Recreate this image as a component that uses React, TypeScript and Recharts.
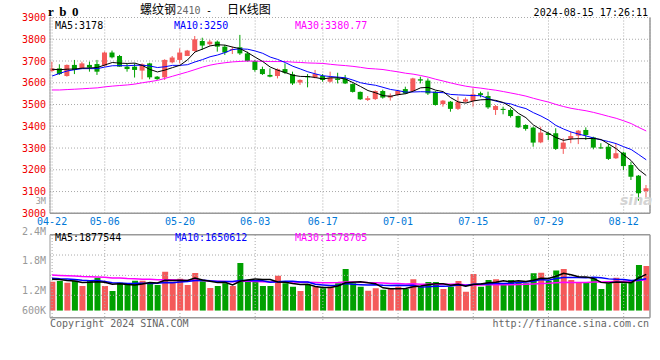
import React from "react";
import {
  ComposedChart,
  Bar,
  Line,
  XAxis,
  YAxis,
  CartesianGrid,
  ReferenceLine,
  Cell,
} from "recharts";

// trading days shown (rb0 daily K, 2024)
const dates = [
  "04-22", "04-23", "04-24", "04-25", "04-26", "04-29", "04-30",
  "05-06", "05-07", "05-08", "05-09", "05-10", "05-13", "05-14", "05-15", "05-16", "05-17",
  "05-20", "05-21", "05-22", "05-23", "05-24", "05-27", "05-28", "05-29", "05-30", "05-31",
  "06-03", "06-04", "06-05", "06-06", "06-07", "06-11", "06-12", "06-13", "06-14",
  "06-17", "06-18", "06-19", "06-20", "06-21", "06-24", "06-25", "06-26", "06-27", "06-28",
  "07-01", "07-02", "07-03", "07-04", "07-05", "07-08", "07-09", "07-10", "07-11", "07-12",
  "07-15", "07-16", "07-17", "07-18", "07-19", "07-22", "07-23", "07-24", "07-25", "07-26",
  "07-29", "07-30", "07-31", "08-01", "08-02", "08-05", "08-06", "08-07", "08-08", "08-09",
  "08-12", "08-13", "08-14", "08-15",
];

const opens = [
  3654, 3666, 3631, 3682, 3666, 3682, 3686, 3679, 3739, 3723,
  3674, 3674, 3656, 3689, 3628, 3625, 3694, 3705, 3723, 3746,
  3792, 3777, 3789, 3766, 3751, 3763, 3735, 3700, 3663, 3636,
  3631, 3663, 3639, 3601, 3631, 3625, 3631, 3605, 3620, 3620,
  3594, 3558, 3521, 3525, 3562, 3532, 3544, 3571, 3562, 3616,
  3610, 3559, 3502, 3513, 3480, 3513, 3516, 3552, 3539, 3475,
  3480, 3475, 3447, 3406, 3394, 3326, 3368, 3368, 3296, 3342,
  3357, 3383, 3349, 3303, 3306, 3253, 3279, 3222, 3173, 3102,
];
const highs = [
  3697, 3685, 3684, 3705, 3697, 3697, 3705, 3743, 3748, 3728,
  3689, 3689, 3689, 3692, 3631, 3708, 3723, 3758, 3751, 3815,
  3807, 3797, 3794, 3774, 3766, 3820, 3743, 3705, 3674, 3666,
  3666, 3689, 3651, 3616, 3640, 3659, 3640, 3651, 3646, 3636,
  3597, 3560, 3539, 3565, 3568, 3551, 3566, 3582, 3623, 3628,
  3620, 3562, 3521, 3516, 3536, 3532, 3575, 3559, 3559, 3498,
  3490, 3483, 3449, 3409, 3398, 3398, 3375, 3391, 3345, 3375,
  3383, 3395, 3352, 3322, 3319, 3322, 3283, 3237, 3176, 3130,
];
const lows = [
  3651, 3636, 3628, 3640, 3663, 3651, 3636, 3674, 3712, 3674,
  3651, 3624, 3616, 3616, 3613, 3613, 3689, 3689, 3723, 3743,
  3751, 3771, 3743, 3728, 3732, 3728, 3697, 3651, 3636, 3625,
  3620, 3640, 3590, 3590, 3579, 3620, 3605, 3601, 3597, 3594,
  3555, 3521, 3516, 3521, 3527, 3518, 3541, 3548, 3559, 3597,
  3544, 3495, 3490, 3467, 3475, 3509, 3490, 3533, 3480, 3452,
  3455, 3440, 3392, 3380, 3306, 3322, 3337, 3291, 3273, 3322,
  3318, 3337, 3294, 3296, 3245, 3250, 3199, 3153, 3058, 3069,
];
const closes = [
  3666, 3640, 3682, 3659, 3689, 3670, 3651, 3739, 3717, 3674,
  3663, 3659, 3685, 3625, 3617, 3705, 3716, 3739, 3748, 3800,
  3771, 3789, 3766, 3739, 3755, 3735, 3700, 3659, 3640, 3628,
  3662, 3646, 3597, 3613, 3625, 3640, 3613, 3623, 3613, 3597,
  3558, 3524, 3529, 3562, 3532, 3541, 3562, 3551, 3620, 3610,
  3551, 3498, 3518, 3480, 3513, 3524, 3547, 3544, 3487, 3493,
  3475, 3447, 3395, 3388, 3325, 3371, 3360, 3296, 3325, 3355,
  3380, 3360, 3302, 3299, 3250, 3276, 3217, 3168, 3092, 3115,
];
const volumes = [
  1530000, 1560000, 1470000, 1580000, 1300000, 1560000, 1740000, 1300000, 1040000, 1470000,
  1350000, 1580000, 1580000, 1440000, 1350000, 2050000, 1520000, 1680000, 1350000, 1990000,
  1550000, 1200000, 1300000, 1440000, 1300000, 2510000, 1510000, 1600000, 1300000, 1300000,
  1840000, 1440000, 1260000, 1040000, 1350000, 1260000, 1180000, 1260000, 1440000, 2190000,
  1440000, 1260000, 1050000, 1180000, 1100000, 1180000, 1260000, 1140000, 1650000, 1260000,
  1510000, 1510000, 1140000, 1260000, 1560000, 1000000, 1930000, 1260000, 1620000, 1650000,
  1440000, 1620000, 1530000, 1440000, 1970000, 2000000, 1560000, 2110000, 2190000, 1620000,
  1470000, 1510000, 1710000, 1140000, 1440000, 1740000, 1440000, 1620000, 2410000, 2350000,
];

// sessions before 04-22 (only feed the moving averages at the left edge)
const prevCloses = [
  3640, 3625, 3610, 3630, 3605, 3590, 3600, 3615, 3590, 3585,
  3540, 3500, 3470, 3450, 3430, 3420, 3440, 3455, 3470, 3430,
  3520, 3570, 3600, 3640, 3670, 3650, 3670, 3655, 3669,
];
const prevVolumes = [
  2200000, 2000000, 1900000, 2300000, 1800000, 2100000, 1900000, 2000000, 1700000, 2200000,
  1900000, 2100000, 1800000, 1900000, 2000000, 1800000, 2100000, 1900000, 1800000, 1900000,
  1900000, 1600000, 1800000, 1700000, 1850000, 1600000, 1750000, 1700000, 1670000,
];

const tickLabels = ["04-22", "05-06", "05-20", "06-03", "06-17", "07-01", "07-15", "07-29", "08-12"];
const priceTicks = [3000, 3100, 3200, 3300, 3400, 3500, 3600, 3700, 3800, 3900];
const volGrid = [810000, 1860000, 2930000];

const RED = "#f45a5a";
const GREEN = "#00a000";
const FRAME = "#999";
const GRID = "#aaa";
const MONO = "'DejaVu Sans Mono', monospace";
const CJK = "'Noto Sans CJK SC', sans-serif";

const X_MIN = -0.28;
const X_MAX = 79.5;
const VOL_MAX = 4000000;
const VOL_FRAME_BOTTOM = -368000;
const VOL_GRID_BOTTOM = -490000;

const movingAvg = (hist: number[], vals: number[], n: number) => {
  const all = [...hist, ...vals];
  return vals.map((_, i) => {
    const end = hist.length + i;
    const slice = all.slice(end - n + 1, end + 1);
    return slice.reduce((a, b) => a + b, 0) / slice.length;
  });
};

const ma5 = movingAvg(prevCloses, closes, 5);
const ma10 = movingAvg(prevCloses, closes, 10);
const ma30 = movingAvg(prevCloses, closes, 30);
const vma5 = movingAvg(prevVolumes, volumes, 5);
const vma10 = movingAvg(prevVolumes, volumes, 10);
const vma30 = movingAvg(prevVolumes, volumes, 30);

const data = dates.map((d, i) => ({
  i,
  date: d,
  open: opens[i],
  high: highs[i],
  low: lows[i],
  close: closes[i],
  range: [lows[i], highs[i]],
  vol: volumes[i],
  ma5: ma5[i],
  ma10: ma10[i],
  ma30: ma30[i],
  vma5: vma5[i],
  vma10: vma10[i],
  vma30: vma30[i],
}));

const tickIdx = tickLabels.map((t) => dates.indexOf(t));

// candle drawn from the [low, high] bar rectangle
const Candle = (props: any) => {
  const { x, y, width, height, payload } = props;
  const { open, close, high, low } = payload;
  const color = close >= open ? RED : GREEN;
  const ratio = height / (high - low);
  const cx = x + width / 2;
  const bodyTop = y + (high - Math.max(open, close)) * ratio;
  const bodyH = Math.max(1, Math.abs(open - close) * ratio);
  return (
    <g>
      <line x1={cx} x2={cx} y1={y} y2={y + height} stroke={color} strokeWidth={1} />
      <rect x={x} y={bodyTop} width={width} height={bodyH} fill={color} />
    </g>
  );
};

export default function App() {
  return (
    <div
      style={{
        position: "absolute",
        left: 0,
        top: 0,
        width: 660,
        height: 360,
        background: "#fff",
        overflow: "hidden",
      }}
    >
      {/* price panel */}
      <div style={{ position: "absolute", left: 0, top: 0 }}>
        <ComposedChart
          width={660}
          height={231}
          data={data}
          margin={{ top: 17.5, right: 10, bottom: 0, left: 0 }}
        >
          <CartesianGrid stroke={GRID} strokeDasharray="1 2" />
          <XAxis
            dataKey="i"
            type="number"
            domain={[X_MIN, X_MAX]}
            allowDataOverflow
            ticks={tickIdx}
            interval={0}
            tickFormatter={(v: number) => dates[v]}
            axisLine={false}
            tickLine={false}
            tickSize={0}
            tickMargin={5}
            height={17.7}
            tick={{ fill: "#0078d7", fontSize: 10, fontFamily: MONO }}
          />
          <YAxis
            type="number"
            domain={[3000, 3900]}
            ticks={priceTicks}
            interval={0}
            allowDataOverflow
            width={50}
            axisLine={false}
            tickLine={false}
            tickSize={0}
            tickMargin={4}
            tick={{ fill: "#f00000", fontSize: 10, fontFamily: MONO }}
          />
          <ReferenceLine x={X_MIN} stroke={FRAME} strokeWidth={1} />
          <ReferenceLine x={X_MAX} stroke={FRAME} strokeWidth={1.5} />
          <ReferenceLine y={3000} stroke={FRAME} strokeWidth={1.5} />
          <Bar
            dataKey="range"
            barSize={5}
            shape={(p: any) => <Candle {...p} />}
            isAnimationActive={false}
          />
          <Line type="linear" dataKey="ma30" stroke="#ff00ff" strokeWidth={1} dot={false} isAnimationActive={false} />
          <Line type="linear" dataKey="ma10" stroke="#0000ff" strokeWidth={1} dot={false} isAnimationActive={false} />
          <Line type="linear" dataKey="ma5" stroke="#000" strokeWidth={1} dot={false} isAnimationActive={false} />
        </ComposedChart>
      </div>

      {/* volume panel */}
      <div style={{ position: "absolute", left: 0, top: 0 }}>
        <ComposedChart
          width={660}
          height={360}
          data={data}
          margin={{ top: 234.7, right: 10, bottom: 49.3, left: 50 }}
        >
          <XAxis dataKey="i" type="number" domain={[X_MIN, X_MAX]} allowDataOverflow ticks={tickIdx} hide />
          <YAxis type="number" domain={[0, VOL_MAX]} allowDataOverflow hide />
          {volGrid.map((v) => (
            <ReferenceLine key={v} y={v} stroke={GRID} strokeDasharray="1 2" />
          ))}
          {tickIdx.map((t) => (
            <ReferenceLine
              key={t}
              segment={[{ x: t, y: VOL_GRID_BOTTOM }, { x: t, y: VOL_MAX }]}
              ifOverflow="visible"
              stroke={GRID}
              strokeDasharray="1 2"
            />
          ))}
          <ReferenceLine y={VOL_MAX} stroke={FRAME} strokeWidth={1.5} />
          <ReferenceLine y={VOL_FRAME_BOTTOM} ifOverflow="visible" stroke={FRAME} strokeWidth={1.5} />
          <ReferenceLine
            segment={[{ x: X_MIN, y: VOL_FRAME_BOTTOM }, { x: X_MIN, y: VOL_MAX }]}
            ifOverflow="visible"
            stroke={FRAME}
          />
          <ReferenceLine
            segment={[{ x: X_MAX, y: VOL_FRAME_BOTTOM }, { x: X_MAX, y: VOL_MAX }]}
            ifOverflow="visible"
            stroke={FRAME}
            strokeWidth={1.5}
          />
          <Bar dataKey="vol" barSize={6} isAnimationActive={false}>
            {data.map((d) => (
              <Cell key={d.i} fill={d.close >= d.open ? RED : GREEN} />
            ))}
          </Bar>
          <Line type="linear" dataKey="vma30" stroke="#ff00ff" strokeWidth={1.5} dot={false} isAnimationActive={false} />
          <Line type="linear" dataKey="vma10" stroke="#0000ff" strokeWidth={1.5} dot={false} isAnimationActive={false} />
          <Line type="linear" dataKey="vma5" stroke="#000" strokeWidth={1.5} dot={false} isAnimationActive={false} />
        </ComposedChart>
      </div>

      {/* texts */}
      <svg
        width={660}
        height={360}
        style={{ position: "absolute", left: 0, top: 0, pointerEvents: "none" }}
      >
        <text x={48} y={15.5} fontFamily="'Liberation Serif', serif" fontWeight="bold" fontSize={13} letterSpacing={5.5}>
          rb0
        </text>
        <text y={14} fontSize={12} fill="#000">
          <tspan x={140} fontFamily={CJK}>螺纹钢</tspan>
          <tspan x={176.5} fontFamily={MONO} fontSize={10} fill="#666">2410</tspan>
          <tspan x={206} fontFamily={MONO} fontSize={10}>-</tspan>
          <tspan x={227} fontFamily={CJK}>日K线图</tspan>
        </text>
        <text x={648} y={15.7} textAnchor="end" fontFamily={MONO} fontSize={10} fill="#000">
          2024-08-15 17:26:11
        </text>

        <text x={55} y={28.7} fontFamily={MONO} fontSize={10} fill="#000">MA5:3178</text>
        <text x={174} y={28.7} fontFamily={MONO} fontSize={10} fill="#0000ff">MA10:3250</text>
        <text x={295} y={28.7} fontFamily={MONO} fontSize={10} fill="#ff00ff">MA30:3380.77</text>

        <text x={55} y={241.3} fontFamily={MONO} fontSize={10} fill="#000">MA5:1877544</text>
        <text x={175} y={241.3} fontFamily={MONO} fontSize={10} fill="#0000ff">MA10:1650612</text>
        <text x={295} y={241.3} fontFamily={MONO} fontSize={10} fill="#ff00ff">MA30:1578705</text>

        <text x={46} y={203.5} textAnchor="end" fontFamily={MONO} fontSize={8.5} fill="#999">3M</text>
        <text x={46} y={235} textAnchor="end" fontFamily={MONO} fontSize={10} fill="#999">2.4M</text>
        <text x={46} y={264} textAnchor="end" fontFamily={MONO} fontSize={10} fill="#999">1.8M</text>
        <text x={46} y={294} textAnchor="end" fontFamily={MONO} fontSize={10} fill="#999">1.2M</text>
        <text x={46} y={314} textAnchor="end" fontFamily={MONO} fontSize={10} fill="#999">600K</text>

        <text x={620} y={205} fontFamily="'DejaVu Sans', sans-serif" fontStyle="italic" fontWeight="bold" fontSize={14} fill="#d4d4d4">
          sina
        </text>

        <text x={50} y={327} fontFamily={MONO} fontSize={10} fill="#666">Copyright 2024 SINA.COM</text>
        <text x={649} y={327} textAnchor="end" fontFamily={MONO} fontSize={10} fill="#666">
          http://finance.sina.com.cn
        </text>
      </svg>
    </div>
  );
}
